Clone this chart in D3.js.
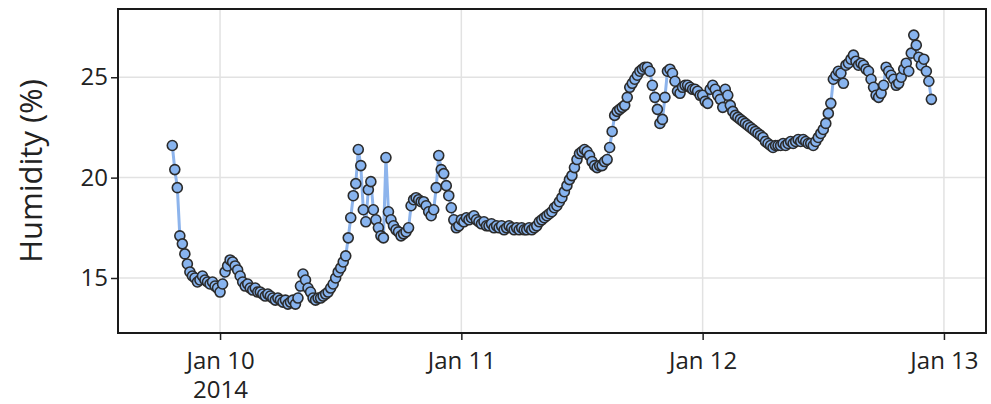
<!DOCTYPE html>
<html>
<head>
<meta charset="utf-8">
<script src="https://cdn.jsdelivr.net/npm/d3@7"></script>
<style>
    body { margin: 0; background: #fff; }
    #chart-area text { font-family: "Open Sans", sans-serif; fill: #222; }
</style>
</head>
<body>
<div id="chart-area"></div>
<script>

// humidity readings, one every 15 minutes, split by day
let jan9Start = "2014-01-09 19:15";
let jan9Humidity = [21.6, 20.4, 19.5, 17.1, 16.7, 16.2, 15.7, 15.3, 15.1, 15.0, 14.8, 14.9,
    15.1, 14.9, 14.8, 14.7, 14.8, 14.6, 14.5];

let jan10Start = "2014-01-10 00:00";
let jan10Humidity = [14.3, 14.7, 15.3, 15.6, 15.9, 15.8, 15.6, 15.4, 15.1, 14.8, 14.6, 14.7,
    14.5, 14.4, 14.5, 14.3, 14.3, 14.2, 14.1, 14.2, 14.1, 14.0, 13.9, 14.0,
    13.9, 13.8, 13.9, 13.7, 13.8, 13.9, 13.7, 14.0, 14.6, 15.2, 14.9, 14.5,
    14.3, 14.0, 13.9, 14.0, 14.0, 14.1, 14.2, 14.3, 14.5, 14.7, 15.0, 15.3,
    15.5, 15.8, 16.1, 17.0, 18.0, 19.1, 19.7, 21.4, 20.6, 18.4, 17.8, 19.4,
    19.8, 18.4, 17.9, 17.5, 17.1, 17.0, 21.0, 18.3, 17.9, 17.6, 17.4, 17.3,
    17.1, 17.2, 17.3, 17.5, 18.6, 18.9, 19.0, 18.9, 18.8, 18.8, 18.6, 18.3,
    18.1, 18.4, 19.5, 21.1, 20.4, 20.2, 19.6, 19.1, 18.5, 17.9, 17.5, 17.6];

let jan11Start = "2014-01-11 00:00";
let jan11Humidity = [17.9, 17.8, 18.0, 17.9, 18.0, 18.1, 17.9, 17.8, 17.7, 17.8, 17.6, 17.6,
    17.7, 17.5, 17.6, 17.5, 17.6, 17.4, 17.5, 17.6, 17.5, 17.4, 17.5, 17.4,
    17.5, 17.4, 17.4, 17.5, 17.4, 17.5, 17.6, 17.8, 17.9, 18.0, 18.1, 18.2,
    18.3, 18.5, 18.6, 18.8, 19.0, 19.3, 19.6, 19.9, 20.1, 20.5, 20.9, 21.2,
    21.3, 21.4, 21.3, 21.1, 20.8, 20.6, 20.5, 20.6, 20.6, 20.8, 20.9, 21.5,
    22.3, 23.1, 23.3, 23.4, 23.5, 23.6, 24.0, 24.5, 24.7, 24.9, 25.1, 25.3,
    25.4, 25.5, 25.5, 25.3, 24.6, 24.0, 23.4, 22.7, 22.9, 24.0, 25.3, 25.4,
    25.2, 24.8, 24.3, 24.2, 24.5, 24.6, 24.6, 24.5, 24.4, 24.4, 24.3, 24.1];

let jan12Start = "2014-01-12 00:00";
let jan12Humidity = [24.1, 23.8, 23.7, 24.4, 24.6, 24.4, 24.1, 23.9, 23.5, 24.4, 24.1, 23.6,
    23.3, 23.1, 23.0, 22.9, 22.8, 22.7, 22.6, 22.5, 22.4, 22.3, 22.2, 22.1,
    22.0, 21.8, 21.7, 21.6, 21.5, 21.6, 21.6, 21.6, 21.7, 21.6, 21.7, 21.8,
    21.7, 21.8, 21.9, 21.8, 21.9, 21.8, 21.7, 21.7, 21.6, 21.8, 22.0, 22.2,
    22.4, 22.7, 23.2, 23.7, 24.9, 25.1, 25.3, 25.2, 24.7, 25.6, 25.7, 25.9,
    26.1, 25.8, 25.6, 25.7, 25.6, 25.4, 25.3, 24.9, 24.5, 24.1, 24.0, 24.2,
    24.6, 25.5, 25.3, 25.1, 24.9, 24.6, 24.7, 25.0, 25.4, 25.7, 25.3, 26.2,
    27.1, 26.6, 26.0, 25.6, 25.9, 25.3, 24.8, 23.9];

let sampleMinutes = 15;

// axis setup
let xTickDates = ["2014-01-10", "2014-01-11", "2014-01-12", "2014-01-13"];
let xTickYear = "2014";
let xDomain = ["2014-01-09 13:51", "2014-01-13 04:11"];
let yTicks = [15, 20, 25];
let yDomain = [12.26, 28.4];
let yTitle = "Humidity (%)";


class HumidityChart {

    constructor(parentElement) {
        this.parentElement = parentElement;
        this.displayData = [];

        this.initVis();
    }

    initVis() {
        let vis = this;

        vis.margin = {top: 9, right: 5, bottom: 71, left: 118};
        vis.width = 991 - vis.margin.left - vis.margin.right;
        vis.height = 404 - vis.margin.top - vis.margin.bottom;

        vis.svg = d3.select("#" + vis.parentElement).append("svg")
            .attr("width", 991)
            .attr("height", 404)
            .append("g")
            .attr("transform", "translate(" + vis.margin.left + "," + vis.margin.top + ")");

        vis.parseTime = d3.timeParse("%Y-%m-%d %H:%M");
        vis.parseDay = d3.timeParse("%Y-%m-%d");

        vis.x = d3.scaleTime()
            .domain(xDomain.map(vis.parseTime))
            .range([0, vis.width]);

        vis.y = d3.scaleLinear()
            .domain(yDomain)
            .range([vis.height, 0]);

        vis.wrangleData();
    }

    wrangleData() {
        let vis = this;

        let days = [
            {start: jan9Start, values: jan9Humidity},
            {start: jan10Start, values: jan10Humidity},
            {start: jan11Start, values: jan11Humidity},
            {start: jan12Start, values: jan12Humidity}
        ];

        vis.displayData = [];
        days.forEach(day => {
            let start = vis.parseTime(day.start);
            day.values.forEach((v, i) => {
                vis.displayData.push({
                    date: d3.timeMinute.offset(start, i * sampleMinutes),
                    value: v
                });
            });
        });

        vis.updateVis();
    }

    updateVis() {
        let vis = this;
        let tickDates = xTickDates.map(vis.parseDay);

        // grid
        vis.svg.append("g").selectAll("line.vgrid")
            .data(tickDates)
            .enter().append("line")
            .attr("class", "vgrid")
            .attr("x1", d => vis.x(d)).attr("x2", d => vis.x(d))
            .attr("y1", 0).attr("y2", vis.height)
            .attr("stroke", "#e2e2e2")
            .attr("stroke-width", 1.5);

        vis.svg.append("g").selectAll("line.hgrid")
            .data(yTicks)
            .enter().append("line")
            .attr("class", "hgrid")
            .attr("x1", 0).attr("x2", vis.width)
            .attr("y1", d => vis.y(d)).attr("y2", d => vis.y(d))
            .attr("stroke", "#e2e2e2")
            .attr("stroke-width", 1.5);

        // line + points
        let line = d3.line()
            .x(d => vis.x(d.date))
            .y(d => vis.y(d.value));

        vis.svg.append("path")
            .datum(vis.displayData)
            .attr("d", line)
            .attr("fill", "none")
            .attr("stroke", "#8db4ec")
            .attr("stroke-width", 3);

        vis.svg.selectAll("circle")
            .data(vis.displayData)
            .enter().append("circle")
            .attr("cx", d => vis.x(d.date))
            .attr("cy", d => vis.y(d.value))
            .attr("r", 5)
            .attr("fill", "#88b4ef")
            .attr("stroke", "#2b2b2b")
            .attr("stroke-width", 1.6);

        // axes
        vis.xAxis = d3.axisBottom(vis.x)
            .tickValues(tickDates)
            .tickSize(7)
            .tickPadding(12)
            .tickFormat(d3.timeFormat("%b %d"));

        vis.yAxis = d3.axisLeft(vis.y)
            .tickValues(yTicks)
            .tickSize(7)
            .tickPadding(3);

        let xg = vis.svg.append("g")
            .attr("class", "x-axis axis")
            .attr("transform", "translate(0," + vis.height + ")")
            .call(vis.xAxis);

        let yg = vis.svg.append("g")
            .attr("class", "y-axis axis")
            .call(vis.yAxis);

        [xg, yg].forEach(g => {
            g.select(".domain").remove();
            g.selectAll(".tick line").attr("stroke", "#222").attr("stroke-width", 1.5);
            g.selectAll(".tick text").style("font-size", "24px");
        });

        // year under the first tick
        xg.select(".tick text")
            .append("tspan")
            .attr("x", 0)
            .attr("dy", "1.22em")
            .text(xTickYear);

        // frame
        vis.svg.append("rect")
            .attr("x", 0).attr("y", 0)
            .attr("width", vis.width).attr("height", vis.height)
            .attr("fill", "none")
            .attr("stroke", "#1a1a1a")
            .attr("stroke-width", 2);

        vis.svg.append("text")
            .attr("transform", "rotate(-90)")
            .attr("x", -vis.height / 2)
            .attr("y", 42 - vis.margin.left)
            .style("text-anchor", "middle")
            .style("font-size", "31px")
            .text(yTitle);
    }
}

let humidityChart = new HumidityChart("chart-area");

</script>
</body>
</html>
